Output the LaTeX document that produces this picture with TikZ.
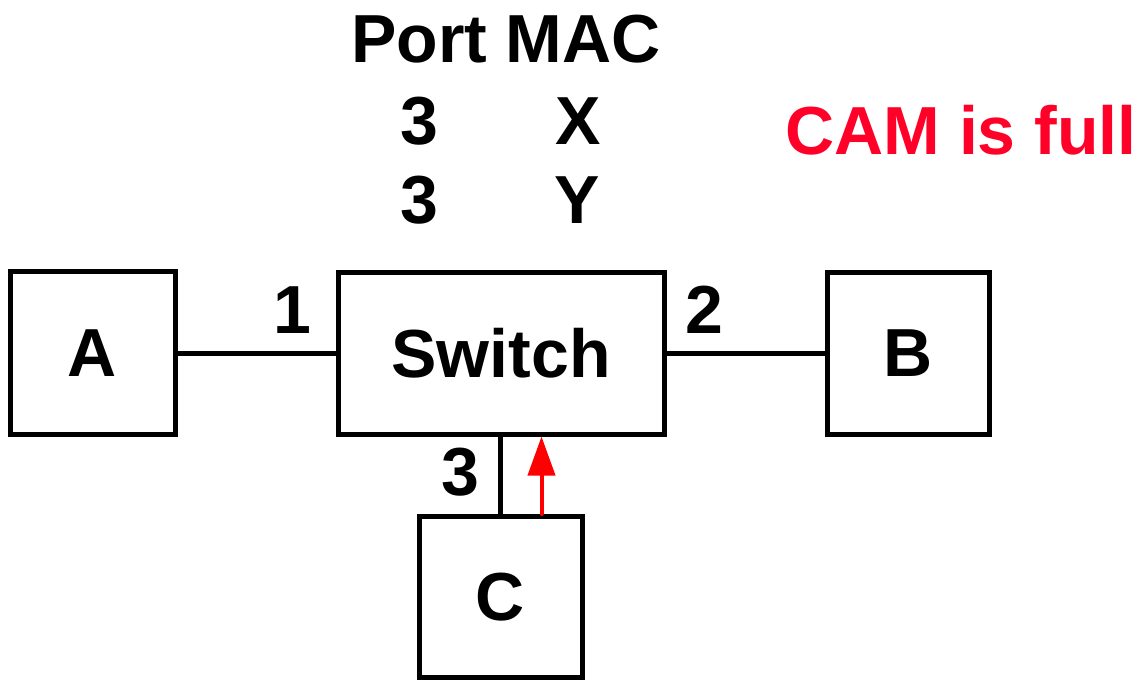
\documentclass[tikz,border=0pt]{standalone}
\usepackage{fontspec}
\setmainfont{Liberation Sans}
\usetikzlibrary{arrows.meta,calc}
\definecolor{camred}{RGB}{255,0,40}
\begin{document}
\begin{tikzpicture}[x=0.5pt,y=-0.5pt,
  every node/.style={font=\fontsize{34}{40}\selectfont\bfseries, inner sep=0pt},
  dev/.style={draw, line width=2.5pt, rectangle},
  wire/.style={line width=2.5pt},
  redarrow/.style={draw=red, line width=2pt, line cap=round, -{Triangle[length=19.5pt,width=13.5pt]}}]
\useasboundingbox (0,0) rectangle (1144,680);
\node[dev, minimum width=82.5pt, minimum height=81.5pt] (A) at (92.5,353) {A};
\node[dev, minimum width=163pt, minimum height=81pt] (S) at (501,353) {Switch};
\node[dev, minimum width=81pt, minimum height=81pt] (B) at (908,353) {B};
\node[dev, minimum width=81.5pt, minimum height=80.5pt] (C) at (500.5,597) {C};
\draw[wire] (A.east) -- (S.west);
\draw[wire] (S.east) -- (B.west);
\draw[wire] (C.north) -- (C.north |- S.south);
\draw[redarrow] ([xshift=20.5pt]C.north) -- ([xshift=20.5pt]C.north |- S.south);
\node (p1) at (292,310) {1};
\node (p2) at (704,310) {2};
\node (p3) at (460,472) {3};
\node (hdr) at (506,39) {Port MAC};
\node (r1p) at (419.5,121) {3};
\node (r1m) at (578,121) {X};
\node (r2p) at (419.5,200) {3};
\node (r2m) at (577,200) {Y};
\node[text=camred] (cam) at (961,130) {CAM is full};
\end{tikzpicture}
\end{document}
